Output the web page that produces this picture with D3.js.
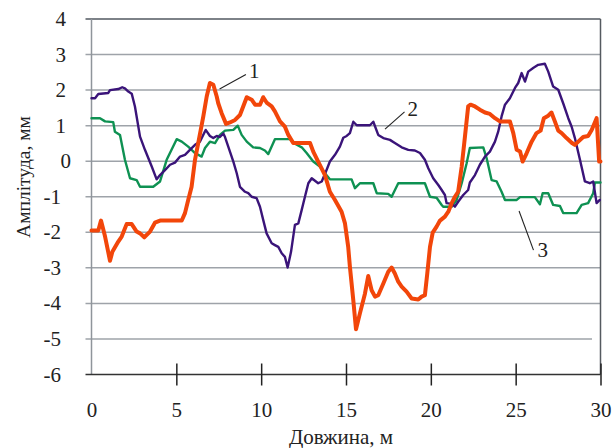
<!DOCTYPE html>
<html>
<head>
<meta charset="utf-8">
<script src="https://cdn.jsdelivr.net/npm/d3@7"></script>
<style>
  html, body { margin: 0; padding: 0; background: #fff; }
  svg { display: block; font-family: "Liberation Serif", "Times New Roman", serif; }
</style>
</head>
<body>
<svg id="chart" width="613" height="448"></svg>
<script>
// Distance along the track, m (x) and amplitude, mm (y) for each curve
const s1x = [0,0.40,0.56,0.80,1.09,1.23,1.58,1.78,2.07,2.37,2.66,2.86,3.11,3.45,3.74,4.04,5.32,5.51,5.70,5.90,6.10,6.29,6.59,6.79,6.98,7.18,7.38,7.47,7.67,7.93,8.16,8.46,8.75,9.15,9.44,9.64,9.93,10.12,10.32,10.62,10.81,11.11,11.40,11.60,11.89,12.88,13.07,13.36,13.76,14.05,14.35,14.74,14.94,15.13,15.23,15.43,15.59,15.82,16.12,16.31,16.51,16.71,16.90,17.20,17.49,17.69,17.88,18.08,18.28,18.57,18.87,19.26,19.46,19.65,19.79,19.95,20.11,20.34,20.54,20.83,21.03,21.23,21.42,21.61,21.82,22.01,22.20,22.34,22.60,22.89,23.19,23.48,23.78,24.07,24.66,24.86,25.06,25.26,25.41,25.65,25.94,26.23,26.47,26.66,26.92,27.11,27.31,27.51,27.71,28.00,28.30,28.49,28.69,28.98,29.27,29.48,29.77,29.92,30];
const s1y = [-1.95,-1.95,-1.67,-2.12,-2.8,-2.55,-2.26,-2.12,-1.77,-1.77,-1.98,-2.03,-2.14,-1.98,-1.73,-1.67,-1.67,-1.46,-1.09,-0.72,0.04,0.51,1.26,1.82,2.2,2.15,1.82,1.63,1.35,1.05,1.09,1.16,1.3,1.8,1.73,1.59,1.59,1.8,1.65,1.54,1.4,1.12,0.97,0.74,0.51,0.51,0.27,-0.01,-0.39,-0.86,-1.09,-1.42,-1.75,-2.41,-2.97,-3.91,-4.73,-4.28,-3.72,-3.23,-3.63,-3.81,-3.77,-3.44,-3.11,-2.99,-3.16,-3.39,-3.53,-3.67,-3.86,-3.89,-3.81,-3.77,-3.16,-2.41,-2.01,-1.84,-1.67,-1.56,-1.42,-1.18,-1.0,-0.86,-0.15,0.69,1.54,1.59,1.54,1.45,1.37,1.33,1.21,1.12,1.12,0.79,0.32,0.27,-0.01,0.23,0.55,0.79,0.86,1.21,1.28,1.37,1.12,0.86,0.79,0.65,0.52,0.46,0.55,0.68,0.71,0.88,1.21,-0.01,-0.01];

const s2x = [0,0.21,0.40,0.99,1.09,1.58,1.81,1.97,2.17,2.37,2.56,2.86,3.15,3.55,3.84,4.04,4.33,4.63,4.92,5.22,5.51,5.80,6.10,6.39,6.73,6.98,7.18,7.38,7.57,7.77,7.87,8.06,8.36,8.56,8.75,9.05,9.24,9.44,9.73,9.93,10.12,10.32,10.62,10.81,11.01,11.21,11.40,11.56,11.76,11.99,12.19,12.39,12.58,12.78,12.98,13.17,13.36,13.57,13.86,14.05,14.35,14.64,14.84,15.04,15.23,15.43,15.63,16.41,16.61,16.90,17.20,17.59,17.88,18.28,18.67,19.06,19.36,19.65,19.85,20.14,20.44,20.64,20.83,20.93,21.23,21.42,21.61,21.91,22.20,22.30,22.60,22.89,23.19,23.48,23.78,23.97,24.17,24.37,24.66,24.96,25.15,25.35,25.55,25.74,26.03,26.33,26.72,26.92,27.21,27.51,27.80,28.10,28.30,28.49,28.79,29.08,29.37,29.57,29.77,29.96];
const s2y = [1.77,1.77,1.89,1.92,2.0,2.03,2.08,2.05,1.96,1.9,1.54,0.69,0.32,-0.15,-0.51,-0.39,-0.25,-0.1,-0.04,0.13,0.18,0.32,0.46,0.55,0.88,0.71,0.65,0.71,0.68,0.78,0.68,0.41,-0.01,-0.34,-0.72,-0.86,-0.9,-1.0,-1.04,-1.28,-1.65,-2.03,-2.31,-2.36,-2.41,-2.59,-2.69,-2.99,-2.55,-1.79,-1.75,-1.37,-1.0,-0.62,-0.48,-0.55,-0.62,-0.57,-0.24,-0.01,0.18,0.41,0.66,0.71,0.79,1.11,1.01,1.01,1.11,0.74,0.65,0.6,0.51,0.39,0.32,0.3,0.23,0.04,-0.2,-0.48,-0.67,-0.81,-0.95,-1.18,-1.2,-1.28,-1.14,-0.95,-0.81,-0.6,-0.39,-0.1,0.13,0.27,0.55,0.83,1.26,1.59,1.77,2.06,2.2,2.48,2.24,2.52,2.62,2.71,2.74,2.52,2.1,2.01,1.63,1.21,0.97,0.65,0.04,-0.57,-0.62,-0.57,-1.18,-1.09];

const s3x = [0,0.50,0.80,1.28,1.38,1.68,1.97,2.27,2.66,2.86,3.64,4.04,4.43,5.02,5.32,5.70,6.10,6.49,6.69,6.98,7.28,7.57,7.87,8.36,8.62,8.85,9.15,9.53,9.93,10.22,10.42,10.81,11.70,11.99,12.39,12.68,13.07,13.46,13.76,14.05,15.33,15.53,15.82,16.61,16.81,17.49,17.69,18.08,19.65,19.95,20.34,20.64,20.73,21.23,21.52,21.82,22.11,22.30,23.09,23.29,23.58,23.88,24.17,24.37,25.06,25.26,26.13,26.43,26.59,26.92,27.21,27.61,27.80,28.59,28.89,29.27,29.57,29.67,30];
const s3y = [1.21,1.21,1.12,1.1,0.83,0.74,0.04,-0.48,-0.53,-0.72,-0.72,-0.57,0.04,0.62,0.55,0.41,0.23,0.13,0.37,0.55,0.51,0.74,0.86,0.88,1.0,0.74,0.55,0.39,0.37,0.3,0.2,0.62,0.62,0.49,0.39,0.23,-0.01,-0.15,-0.34,-0.51,-0.51,-0.76,-0.62,-0.62,-0.9,-0.92,-1.0,-0.62,-0.62,-1.0,-1.03,-1.23,-1.28,-1.28,-1.09,-0.62,-0.06,0.37,0.39,0.08,-0.53,-0.57,-0.86,-1.09,-1.09,-1.01,-1.01,-1.21,-0.9,-0.9,-1.23,-1.26,-1.46,-1.46,-1.23,-1.18,-0.9,-0.6,-0.6];

// Axis ticks and titles
const xTicks = [0, 5, 10, 15, 20, 25, 30];
const yTicks = [-6, -5, -4, -3, -2, -1, 0, 1, 2, 3, 4];
const xTitle = "Довжина, м";
const yTitle = "Амплітуда, мм";

// Curve labels: which curve, the point the leader starts at and where the number sits
const curveLabels = ["1", "2", "3"];
const labelAnchor = [[7.55, 2.03], [17.3, 0.9], [25.2, -1.4]];
const labelEnd = [[9.1, 2.44], [18.45, 1.39], [26.05, -2.5]];

const svg = d3.select("#chart");
const x = d3.scaleLinear().domain([0, 30]).range([91.5, 600.5]);
const y = d3.scaleLinear().domain([-6, 4]).range([374.5, 19]);

// Horizontal grid, extended a little past the left axis as tick marks
svg.append("g")
  .selectAll("line")
  .data(yTicks.filter(d => d > -6))
  .join("line")
  .attr("x1", x(0) - 6).attr("x2", d => d === -5 ? x(29.5) : x(30))
  .attr("y1", d => y(d)).attr("y2", d => y(d))
  .attr("stroke", d => d === 4 ? "#7d8288" : "#9ea3a9")
  .attr("stroke-width", d => d === 4 ? 1.8 : 1.5);

// Left and right frame lines
svg.append("line")
  .attr("x1", x(0)).attr("x2", x(0)).attr("y1", y(4)).attr("y2", y(-6))
  .attr("stroke", "#8f959b").attr("stroke-width", 1.5);
svg.append("line")
  .attr("x1", x(30)).attr("x2", x(30)).attr("y1", y(4)).attr("y2", y(-6))
  .attr("stroke", "#555a60").attr("stroke-width", 1.5);

// Y axis labels
svg.append("g")
  .selectAll("text")
  .data(yTicks)
  .join("text")
  .attr("x", d => d < 0 ? 61 : (d === 0 ? 71 : 66))
  .attr("y", d => y(d) + 7)
  .attr("text-anchor", "end")
  .attr("font-size", 21)
  .attr("fill", "#222")
  .text(d => d);

// X axis with ticks crossing the baseline
const xAxis = d3.axisBottom(x).tickValues(xTicks).tickSize(0).tickFormat(d3.format("d"));
const gx = svg.append("g").attr("transform", `translate(0,${y(-6)})`).call(xAxis);
gx.select(".domain").attr("stroke", "#333").attr("stroke-width", 1.5)
  .attr("d", `M${x(0) - 6},0H${x(30)}`);
gx.selectAll(".tick line")
  .attr("y1", d => d === 0 ? 0 : -11).attr("y2", d => d === 0 ? 0 : 11)
  .attr("stroke", "#222").attr("stroke-width", 1.5);
gx.selectAll(".tick text")
  .attr("y", 42).attr("dy", 0)
  .attr("font-size", 21)
  .attr("font-family", "Liberation Serif, Times New Roman, serif")
  .attr("fill", "#222");

// Axis titles
svg.append("text")
  .attr("x", 341).attr("y", 444)
  .attr("text-anchor", "middle")
  .attr("font-size", 21).attr("fill", "#222")
  .text(xTitle);
svg.append("text")
  .attr("transform", "translate(30,177) rotate(-90)")
  .attr("text-anchor", "middle")
  .attr("font-size", 19.5).attr("fill", "#222")
  .text(yTitle);

// Curves
const series = [
  { xs: s3x, ys: s3y, color: "#0e9152", width: 2.4 },
  { xs: s2x, ys: s2y, color: "#3a1479", width: 2.4 },
  { xs: s1x, ys: s1y, color: "#f2460a", width: 4 }
];
const line = d3.line().x(d => x(d[0])).y(d => y(d[1]));
svg.append("g")
  .selectAll("path")
  .data(series)
  .join("path")
  .attr("d", s => line(d3.zip(s.xs, s.ys)))
  .attr("fill", "none")
  .attr("stroke", s => s.color)
  .attr("stroke-width", s => s.width)
  .attr("stroke-linejoin", "round")
  .attr("stroke-linecap", "round");

// Curve number labels with leader lines
const lbl = svg.append("g");
curveLabels.forEach((t, i) => {
  const a = labelAnchor[i], e = labelEnd[i];
  lbl.append("line")
    .attr("x1", x(a[0])).attr("y1", y(a[1]))
    .attr("x2", x(e[0])).attr("y2", y(e[1]))
    .attr("stroke", "#222").attr("stroke-width", 1.1);
  lbl.append("text")
    .attr("x", x(e[0]) + (i === 2 ? 4 : 3))
    .attr("y", y(e[1]) + (i === 2 ? 7 : 4))
    .attr("font-size", 21).attr("fill", "#222")
    .text(t);
});
</script>
</body>
</html>
